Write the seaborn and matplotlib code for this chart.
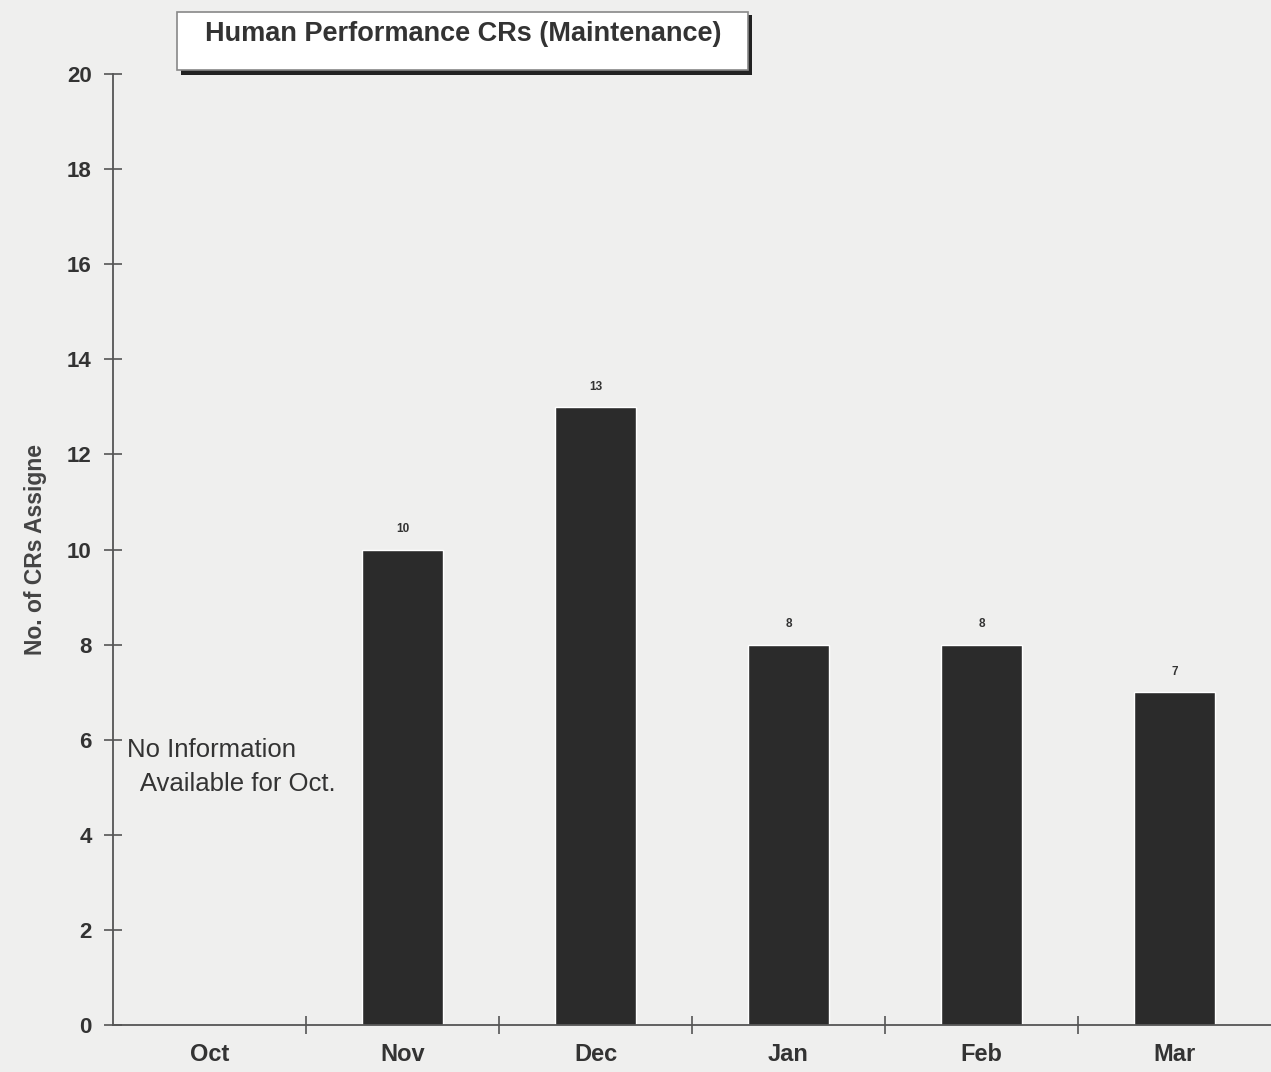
import numpy as np
import pandas as pd
import matplotlib
matplotlib.use("Agg")
import matplotlib.pyplot as plt
import matplotlib.patches as mpatches
import seaborn as sns

# chart data
months = ["Oct", "Nov", "Dec", "Jan", "Feb", "Mar"]
crs_assigned = [np.nan, 10, 13, 8, 8, 7]
y_ticks = list(range(0, 21, 2))

df = pd.DataFrame({"month": months, "crs": crs_assigned})

sns.set_style("white")
plt.rcParams["font.family"] = ["Liberation Sans", "DejaVu Sans"]

bg = "#efefee"
ink = "#333333"

fig = plt.figure(figsize=(12.71, 10.72), dpi=100, facecolor=bg)
ax = fig.add_axes([0.089, 0.0438, 0.911, 0.8872])
ax.set_facecolor(bg)

sns.barplot(data=df, x="month", y="crs", order=months, color="#2b2b2b",
            width=0.42, saturation=1, ax=ax)

# value labels above bars
for i, v in enumerate(crs_assigned):
    if not np.isnan(v):
        ax.text(i, v + 0.3, f"{int(v)}", ha="center", va="bottom",
                fontsize=8.5, fontweight="bold", color=ink)

ax.set_xlim(-0.5, 5.5)
ax.set_ylim(0, 20)
ax.set_yticks(y_ticks)
ax.set_yticklabels([str(t) for t in y_ticks], fontsize=16, fontweight="bold", color=ink)
ax.set_xticks(range(len(months)))
ax.set_xticklabels(months, fontsize=17, fontweight="bold", color=ink)
ax.set_xticks(np.arange(0.5, 5.5, 1), minor=True)
ax.tick_params(axis="x", which="major", bottom=True, length=0, pad=13)
ax.tick_params(axis="x", which="minor", bottom=True, length=13, direction="inout",
               color="#555555", width=1.2)
ax.tick_params(axis="y", left=True, length=13, direction="inout", color="#555555",
               width=1.2, pad=9)

for side in ["top", "right"]:
    ax.spines[side].set_visible(False)
for side in ["left", "bottom"]:
    ax.spines[side].set_color("#555555")
    ax.spines[side].set_linewidth(1.3)

ax.set_xlabel("")
ax.set_ylabel("No. of CRs Assigne", fontsize=16.5, fontweight="bold", color="#444444", labelpad=14)

ax.text(-0.43, 5.43, "No Information\n  Available for Oct.", ha="left", va="center",
        fontsize=18.5, color=ink, linespacing=1.5)

# boxed title with drop shadow
fig.add_artist(mpatches.Rectangle((0.1425, 0.9305), 0.4495, 0.0553, transform=fig.transFigure,
                                  facecolor="#222222", edgecolor="none"))
fig.add_artist(mpatches.Rectangle((0.1393, 0.9345), 0.4495, 0.0543, transform=fig.transFigure,
                                  facecolor="white", edgecolor="#888888", linewidth=1.2))
fig.text(0.1613, 0.968, "Human Performance CRs (Maintenance)", ha="left", va="center",
         fontsize=19.5, fontweight="bold", color=ink)

fig.savefig("out.png", dpi=100, facecolor=bg)
